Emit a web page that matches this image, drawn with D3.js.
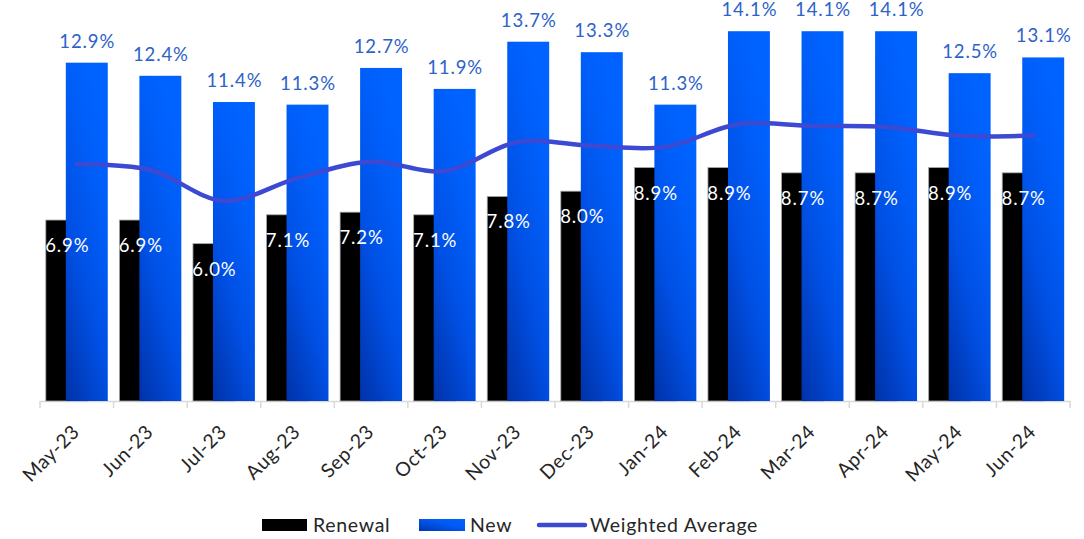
<!DOCTYPE html>
<html>
<head>
<meta charset="utf-8">
<script src="https://cdn.jsdelivr.net/npm/d3@7"></script>
<style>
  html, body { margin: 0; padding: 0; background: #fff; }
  svg { display: block; }
  text { font-family: "Lato", "DejaVu Sans", sans-serif; }
</style>
</head>
<body>
<svg id="chart" width="1084" height="539"></svg>
<script>
const categories = ["May-23","Jun-23","Jul-23","Aug-23","Sep-23","Oct-23","Nov-23","Dec-23","Jan-24","Feb-24","Mar-24","Apr-24","May-24","Jun-24"];
const renewal = [6.9, 6.9, 6.0, 7.1, 7.2, 7.1, 7.8, 8.0, 8.9, 8.9, 8.7, 8.7, 8.9, 8.7];
const newRates = [12.9, 12.4, 11.4, 11.3, 12.7, 11.9, 13.7, 13.3, 11.3, 14.1, 14.1, 14.1, 12.5, 13.1];
const weighted = [9.04, 8.81, 7.63, 8.50, 9.12, 8.77, 9.88, 9.73, 9.69, 10.56, 10.49, 10.45, 10.11, 10.12];
const seriesNames = ["Renewal", "New", "Weighted Average"];

const svg = d3.select("#chart");
const left = 40, right = 1070, base = 401;

const x = d3.scaleBand().domain(categories).range([left, right]).paddingInner(0).paddingOuter(0);
const y = d3.scaleLinear().domain([0, 15.29]).range([base, 0]);

const bw = x.bandwidth();
const barW = bw * 0.57;
const offset = bw * 0.272;
const startPad = (bw - (barW + offset)) / 2;

// gradients
const defs = svg.append("defs");
const grad = defs.append("linearGradient").attr("id", "newGrad")
  .attr("x1", 0).attr("y1", 1).attr("x2", 0.5).attr("y2", 0);
grad.append("stop").attr("offset", "0").attr("stop-color", "#0032a8");
grad.append("stop").attr("offset", "0.45").attr("stop-color", "#0050e4");
grad.append("stop").attr("offset", "0.8").attr("stop-color", "#005ef8");
grad.append("stop").attr("offset", "1").attr("stop-color", "#0062ff");
const lgGrad = defs.append("linearGradient").attr("id", "legGrad")
  .attr("x1", 0).attr("y1", 1).attr("x2", 1).attr("y2", 0);
lgGrad.append("stop").attr("offset", "0").attr("stop-color", "#0036b0");
lgGrad.append("stop").attr("offset", "0.6").attr("stop-color", "#005af5");
lgGrad.append("stop").attr("offset", "1").attr("stop-color", "#0062ff");

// axis
const axis = d3.axisBottom(x).tickSize(0).tickFormat("");
const axG = svg.append("g").attr("transform", `translate(0,${base})`).call(axis);
axG.select(".domain").attr("stroke", "#d9d9d9").attr("stroke-width", 1.5);
const boundaries = categories.map(c => x(c)).concat([right]);
svg.append("g").selectAll("line").data(boundaries).join("line")
  .attr("x1", d => d).attr("x2", d => d)
  .attr("y1", base).attr("y2", base + 7)
  .attr("stroke", "#d9d9d9").attr("stroke-width", 1.5);

// renewal bars
svg.append("g").selectAll("rect").data(categories).join("rect")
  .attr("x", (d) => x(d) + startPad)
  .attr("y", (d, i) => y(renewal[i]))
  .attr("width", barW)
  .attr("height", (d, i) => base - y(renewal[i]))
  .attr("fill", "#000")
  .attr("stroke", "#a6a6a6").attr("stroke-width", 0.8);

// new bars
svg.append("g").selectAll("rect").data(categories).join("rect")
  .attr("x", (d) => x(d) + startPad + offset)
  .attr("y", (d, i) => y(newRates[i]))
  .attr("width", barW)
  .attr("height", (d, i) => base - y(newRates[i]))
  .attr("fill", "url(#newGrad)");

// weighted average line
const line = d3.line()
  .x((d, i) => x(categories[i]) + bw / 2)
  .y(d => y(d))
  .curve(d3.curveCatmullRom.alpha(0.5));
svg.append("path").datum(weighted)
  .attr("d", line)
  .attr("fill", "none")
  .attr("stroke", "#3c49d3")
  .attr("stroke-width", 4.5)
  .attr("stroke-linecap", "round");

// labels for new
svg.append("g").selectAll("text").data(categories).join("text")
  .attr("x", d => x(d) + startPad + offset + barW / 2 + 0.5)
  .attr("y", (d, i) => y(newRates[i]) - 15)
  .attr("text-anchor", "middle")
  .attr("font-size", 18.5)
  .attr("letter-spacing", 0.9)
  .attr("fill", "#2d62c8")
  .text((d, i) => newRates[i].toFixed(1) + "%");

// labels for renewal
svg.append("g").selectAll("text").data(categories).join("text")
  .attr("x", d => x(d) + startPad + barW / 2 + 0.5)
  .attr("y", (d, i) => y(renewal[i]) + 32)
  .attr("text-anchor", "middle")
  .attr("font-size", 18.5)
  .attr("letter-spacing", 0.9)
  .attr("fill", "#ffffff")
  .text((d, i) => renewal[i].toFixed(1) + "%");

// category labels
svg.append("g").selectAll("text").data(categories).join("text")
  .attr("transform", d => `translate(${x(d) + bw / 2 + 4},${433}) rotate(-45)`)
  .attr("text-anchor", "end")
  .attr("font-size", 19.5)
  .attr("letter-spacing", 0.6)
  .attr("fill", "#262626")
  .text(d => d);

// legend
const lg = svg.append("g");
const ly = 525;
const lfs = 19.5, lls = 0.7;
lg.append("rect").attr("x", 262).attr("y", ly - 6).attr("width", 45).attr("height", 12).attr("fill", "#000");
lg.append("text").attr("x", 313).attr("y", ly + 7).attr("font-size", lfs).attr("letter-spacing", lls).attr("fill", "#262626").text(seriesNames[0]);
lg.append("rect").attr("x", 419).attr("y", ly - 6).attr("width", 46).attr("height", 12).attr("fill", "url(#legGrad)");
lg.append("text").attr("x", 470).attr("y", ly + 7).attr("font-size", lfs).attr("letter-spacing", lls).attr("fill", "#262626").text(seriesNames[1]);
lg.append("line").attr("x1", 539).attr("x2", 585).attr("y1", ly).attr("y2", ly)
  .attr("stroke", "#3c49d3").attr("stroke-width", 4.5).attr("stroke-linecap", "round");
lg.append("text").attr("x", 590).attr("y", ly + 7).attr("font-size", lfs).attr("letter-spacing", lls).attr("fill", "#262626").text(seriesNames[2]);
</script>
</body>
</html>
